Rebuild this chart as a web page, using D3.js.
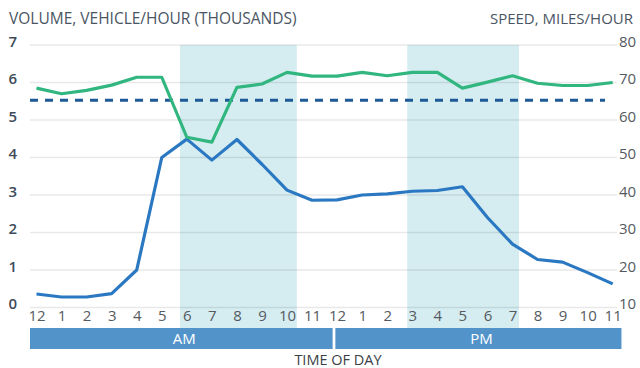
<!DOCTYPE html>
<html>
<head>
<meta charset="utf-8">
<script src="https://cdn.jsdelivr.net/npm/d3@7"></script>
<style>
  html, body { margin: 0; padding: 0; background: #fff; }
  svg { display: block; font-family: "Open Sans", "Noto Sans", sans-serif; }
</style>
</head>
<body>
<svg id="chart" width="640" height="368"></svg>
<script>
// Hour of day, 0 = midnight
const hours = d3.range(0, 24);
const hourLabels = ["12","1","2","3","4","5","6","7","8","9","10","11",
                    "12","1","2","3","4","5","6","7","8","9","10","11"];

// Traffic volume, thousands of vehicles per hour
const volume = [0.36, 0.28, 0.28, 0.37, 1.0, 4.0, 4.49, 3.93, 4.48, 3.82, 3.13, 2.86,
                2.87, 3.0, 3.03, 3.1, 3.12, 3.22, 2.4, 1.69, 1.28, 1.21, 0.93, 0.63];

// Average speed, miles per hour
const speed = [68.5, 67.0, 67.9, 69.3, 71.4, 71.4, 55.4, 54.1, 68.7, 69.6, 72.7, 71.7,
               71.7, 72.7, 71.8, 72.7, 72.7, 68.5, 70.1, 71.8, 69.8, 69.2, 69.2, 70.0];

// Posted speed reference (mph)
const speedLimit = 65.3;

// Peak periods, in hours
const peakPeriods = [[5.73, 10.39], [14.8, 19.26]];

// Half-day bars under the axis
const periods = [
  { label: "AM", start: -0.26, end: 11.82 },
  { label: "PM", start: 11.93, end: 23.35 }
];

const volumeTicks = [0, 1, 2, 3, 4, 5, 6, 7];
const speedTicks = [10, 20, 30, 40, 50, 60, 70, 80];

const svg = d3.select("#chart");

const x = d3.scaleLinear().domain([0, 23]).range([36.5, 612.7]);
const yVol = d3.scaleLinear().domain([0, 7]).range([307.5, 45]);
const ySpd = d3.scaleLinear().domain([10, 80]).range([307.5, 45]);

const gridLeft = 30, gridRight = 617;

// Peak-period shading
svg.append("g").selectAll("rect").data(peakPeriods).join("rect")
  .attr("x", d => x(d[0]))
  .attr("width", d => x(d[1]) - x(d[0]))
  .attr("y", yVol(7))
  .attr("height", 328 - yVol(7))
  .attr("fill", "#d5ecf1");

// Horizontal gridlines
svg.append("g").selectAll("line").data(volumeTicks).join("line")
  .attr("x1", gridLeft).attr("x2", gridRight)
  .attr("y1", d => yVol(d)).attr("y2", d => yVol(d))
  .attr("stroke", "#000").attr("stroke-opacity", 0.09).attr("stroke-width", 1.5);

// Left axis: volume
const leftAxis = svg.append("g")
  .attr("transform", "translate(17,0)")
  .call(d3.axisLeft(yVol).tickValues(volumeTicks).tickSize(0).tickPadding(0).tickFormat(d3.format("d")));
leftAxis.select(".domain").remove();
leftAxis.selectAll("text")
  .attr("dy", "1px")
  .style("font-size", "15px").style("font-weight", "600")
  .style("font-family", "\"Open Sans\", sans-serif")
  .attr("fill", "#3e4b5b");

// Right axis: speed
const rightAxis = svg.append("g")
  .attr("transform", `translate(${gridRight},0)`)
  .call(d3.axisRight(ySpd).tickValues(speedTicks).tickSize(0).tickPadding(2));
rightAxis.select(".domain").remove();
rightAxis.selectAll("text")
  .attr("dy", "1px")
  .style("font-size", "15px")
  .style("font-family", "\"Open Sans\", sans-serif")
  .attr("fill", "#555a60");

// Bottom axis: hour of day
const bottomAxis = svg.append("g")
  .attr("transform", "translate(0,307.5)")
  .call(d3.axisBottom(x).tickValues(hours).tickSize(0).tickPadding(0)
    .tickFormat((d, i) => hourLabels[i]));
bottomAxis.select(".domain").remove();
bottomAxis.selectAll("text")
  .attr("dy", "13.2px")
  .attr("y", 0)
  .style("font-size", "15px")
  .style("font-family", "\"Open Sans\", sans-serif")
  .attr("fill", "#555a60");

// Speed limit reference
svg.append("line")
  .attr("x1", gridLeft).attr("x2", 605)
  .attr("y1", ySpd(speedLimit)).attr("y2", ySpd(speedLimit))
  .attr("stroke", "#1d5a97").attr("stroke-width", 3)
  .attr("stroke-dasharray", "8,7");

// Volume line
svg.append("path").datum(volume)
  .attr("fill", "none").attr("stroke", "#2b78c2").attr("stroke-width", 3.2)
  .attr("stroke-linejoin", "round")
  .attr("d", d3.line().x((d, i) => x(hours[i])).y(d => yVol(d)));

// Speed line
svg.append("path").datum(speed)
  .attr("fill", "none").attr("stroke", "#30b67e").attr("stroke-width", 3.2)
  .attr("stroke-linejoin", "round")
  .attr("d", d3.line().x((d, i) => x(hours[i])).y(d => ySpd(d)));

// AM / PM bars
const per = svg.append("g").selectAll("g").data(periods).join("g");
per.append("rect")
  .attr("x", d => x(d.start))
  .attr("width", d => x(d.end) - x(d.start))
  .attr("y", 328).attr("height", 21)
  .attr("fill", "#5294ca");
per.append("text")
  .attr("x", d => (x(d.start) + x(d.end)) / 2 + 3)
  .attr("y", 344)
  .attr("text-anchor", "middle")
  .style("font-size", "15px")
  .attr("fill", "#ffffff")
  .text(d => d.label);

// Titles
svg.append("text")
  .attr("x", 9).attr("y", 24)
  .style("font-size", "15.5px")
  .attr("fill", "#4a5563")
  .text("VOLUME, VEHICLE/HOUR (THOUSANDS)");

svg.append("text")
  .attr("x", 633).attr("y", 24)
  .attr("text-anchor", "end")
  .style("font-size", "15px")
  .attr("fill", "#4a5563")
  .text("SPEED, MILES/HOUR");

svg.append("text")
  .attr("x", 338).attr("y", 365)
  .attr("text-anchor", "middle")
  .style("font-size", "14.5px")
  .attr("fill", "#3a3f45")
  .text("TIME OF DAY");
</script>
</body>
</html>
